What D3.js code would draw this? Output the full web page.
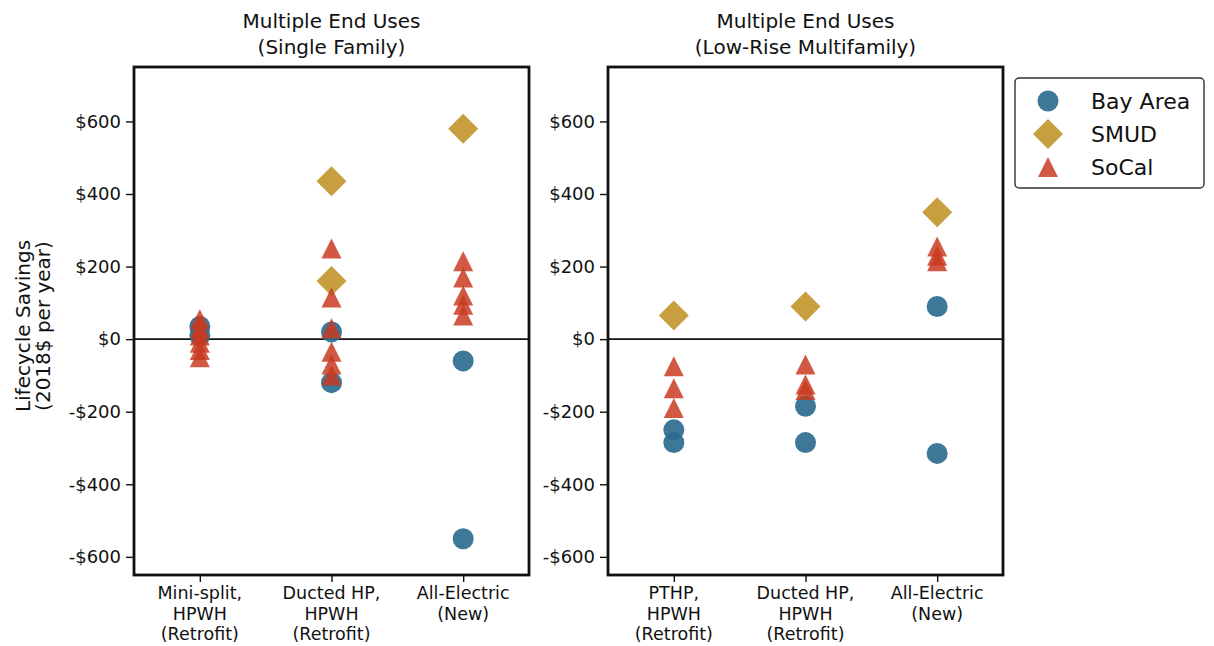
<!DOCTYPE html>
<html><head><meta charset="utf-8">
<script src="https://cdn.jsdelivr.net/npm/d3@7"></script>
<style>
html,body{margin:0;padding:0;background:#fff;}
text{font-family:"DejaVu Sans",sans-serif;fill:#111;}
</style></head>
<body>
<svg id="chart" width="1214" height="646"></svg>
<script>
// ---- data ----
const titlesSF = ["Multiple End Uses", "(Single Family)"];
const titlesMF = ["Multiple End Uses", "(Low-Rise Multifamily)"];
const categoriesSF = [["Mini-split,", "HPWH", "(Retrofit)"], ["Ducted HP,", "HPWH", "(Retrofit)"], ["All-Electric", "(New)"]];
const categoriesMF = [["PTHP,", "HPWH", "(Retrofit)"], ["Ducted HP,", "HPWH", "(Retrofit)"], ["All-Electric", "(New)"]];
const seriesNames = ["Bay Area", "SMUD", "SoCal"];
const bayAreaSF = [[35, 10], [20, -120], [-60, -550]];
const smudSF = [[], [435, 160], [580]];
const socalSF = [[55, 30, 10, -10, -30, -50], [250, 115, 30, -35, -70, -100], [215, 170, 120, 95, 65]];
const bayAreaMF = [[-250, -285], [-185, -285], [90, -315]];
const smudMF = [[65], [90], [350]];
const socalMF = [[-75, -135, -190], [-70, -125, -140], [255, 230, 215]];
const yTicks = [-600, -400, -200, 0, 200, 400, 600];
const yDomain = [-650, 750];
const yLabel = ["Lifecycle Savings", "(2018$ per year)"];

// ---- styles ----
const colors = {"Bay Area": "#2d6d90", "SMUD": "#c49a35", "SoCal": "#c8391f"};
const opac = {"Bay Area": 0.92, "SMUD": 0.95, "SoCal": 0.84};

const svg = d3.select("#chart");
const plotTop = 67, plotBottom = 575;
const panels = [
  {left: 134, right: 529, titles: titlesSF, cats: categoriesSF, data: [bayAreaSF, smudSF, socalSF], ylab: true},
  {left: 608, right: 1003, titles: titlesMF, cats: categoriesMF, data: [bayAreaMF, smudMF, socalMF], ylab: false}
];

const y = d3.scaleLinear().domain(yDomain).range([plotBottom, plotTop]);
const fmt = v => (v < 0 ? "-$" : "$") + Math.abs(v);

function markerPath(name) {
  if (name === "Bay Area") return d3.symbol(d3.symbolCircle, Math.PI * 10.5 * 10.5)();
  if (name === "SMUD") return "M0,-15L15,0L0,15L-15,0Z";
  return "M0,-10L10,10L-10,10Z";
}

panels.forEach(p => {
  const x = d3.scaleLinear().domain([-0.5, 2.5]).range([p.left, p.right]);
  const g = svg.append("g");

  const ya = g.append("g").attr("transform", `translate(${p.left},0)`)
    .call(d3.axisLeft(y).tickValues(yTicks).tickFormat(fmt).tickSize(8).tickPadding(5));
  ya.select(".domain").remove();
  ya.selectAll("line").attr("stroke", "#111").attr("stroke-width", 1.4);
  ya.selectAll("text").style("font-size", "18px").attr("fill", "#111");

  const xa = g.append("g").attr("transform", `translate(0,${plotBottom})`)
    .call(d3.axisBottom(x).tickValues([0, 1, 2]).tickFormat("").tickSize(7));
  xa.select(".domain").remove();
  xa.selectAll("line").attr("stroke", "#111").attr("stroke-width", 1.4);
  p.cats.forEach((lines, i) => {
    const t = g.append("text").attr("x", x(i)).attr("y", plotBottom + 24)
      .attr("text-anchor", "middle").style("font-size", "17.5px");
    lines.forEach((l, j) => t.append("tspan").attr("x", x(i)).attr("dy", j === 0 ? 0 : 20.5).text(l));
  });

  g.append("line").attr("x1", p.left).attr("x2", p.right).attr("y1", y(0)).attr("y2", y(0))
    .attr("stroke", "#111").attr("stroke-width", 1.7);

  p.data.forEach((series, si) => {
    const name = seriesNames[si];
    const pts = [];
    series.forEach((vals, ci) => vals.forEach(v => pts.push({ci, v})));
    g.append("g").selectAll("path").data(pts).join("path")
      .attr("d", markerPath(name))
      .attr("transform", d => `translate(${x(d.ci)},${y(d.v)})`)
      .attr("fill", colors[name]).attr("fill-opacity", opac[name]);
  });

  g.append("rect").attr("x", p.left).attr("y", plotTop).attr("width", p.right - p.left).attr("height", plotBottom - plotTop)
    .attr("fill", "none").attr("stroke", "#111").attr("stroke-width", 2.8);

  const cx = (p.left + p.right) / 2;
  g.append("text").attr("x", cx).attr("y", 28).attr("text-anchor", "middle").style("font-size", "20px").text(p.titles[0]);
  g.append("text").attr("x", cx).attr("y", 54).attr("text-anchor", "middle").style("font-size", "20px").text(p.titles[1]);

  if (p.ylab) {
    const t = svg.append("text").attr("transform", `translate(30,326) rotate(-90)`)
      .attr("text-anchor", "middle").style("font-size", "20px");
    t.append("tspan").attr("x", 0).attr("dy", 0).text(yLabel[0]);
    t.append("tspan").attr("x", 0).attr("dy", 20).text(yLabel[1]);
  }
});

const lg = svg.append("g");
lg.append("rect").attr("x", 1015).attr("y", 78).attr("width", 189).attr("height", 110).attr("rx", 4)
  .attr("fill", "#fff").attr("stroke", "#333").attr("stroke-width", 1.4);
const legY = [101, 134, 167];
seriesNames.forEach((name, i) => {
  lg.append("path").attr("d", markerPath(name)).attr("transform", `translate(1048,${legY[i]})`)
    .attr("fill", colors[name]).attr("fill-opacity", opac[name]);
  lg.append("text").attr("x", 1091).attr("y", legY[i] + 8).style("font-size", "22px").text(name);
});
</script>
</body></html>
